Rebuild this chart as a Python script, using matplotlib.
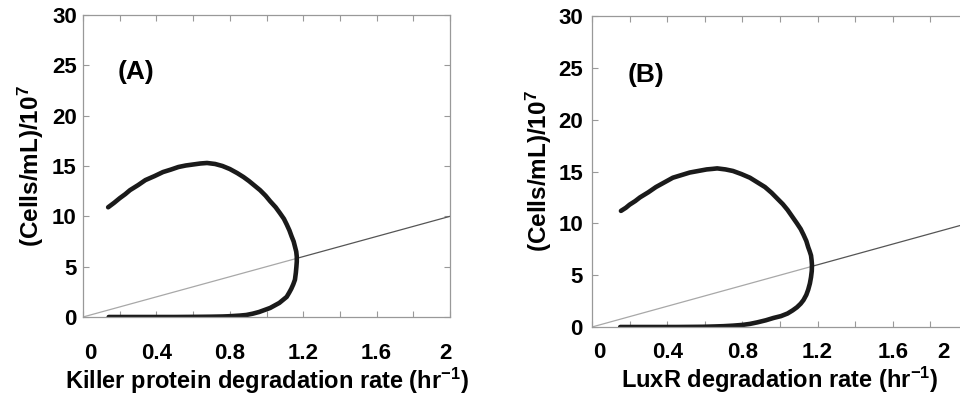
import matplotlib
matplotlib.use("Agg")
import matplotlib.pyplot as plt
from matplotlib.transforms import ScaledTranslation

plt.rcParams['font.family'] = ['Liberation Sans', 'DejaVu Sans']
plt.rcParams['font.weight'] = 'bold'
plt.rcParams['mathtext.fontset'] = 'custom'
plt.rcParams['mathtext.rm'] = 'Liberation Sans:bold'
plt.rcParams['mathtext.it'] = 'Liberation Sans:bold'
plt.rcParams['mathtext.bf'] = 'Liberation Sans:bold'
plt.rcParams['mathtext.default'] = 'rm'

# Panel A: bifurcation curve (upper branch -> fold -> lower branch)
a_x = [0.137, 0.17, 0.20, 0.23, 0.256, 0.30, 0.34, 0.39, 0.436, 0.48, 0.52, 0.56, 0.60,
       0.64, 0.676, 0.72, 0.76, 0.80, 0.84, 0.875, 0.905, 0.935, 0.965, 0.995,
       1.02, 1.05, 1.074, 1.095, 1.11, 1.125, 1.137, 1.148, 1.155, 1.162, 1.165,
       1.165, 1.163, 1.16, 1.155, 1.146, 1.135, 1.123, 1.11, 1.09, 1.07,
       1.045, 1.02, 0.99, 0.96, 0.925, 0.89, 0.855, 0.82, 0.79, 0.76, 0.70, 0.65,
       0.58, 0.5, 0.4, 0.3, 0.22, 0.14]
a_y = [10.9, 11.35, 11.8, 12.2, 12.6, 13.1, 13.6, 14.0, 14.4, 14.65, 14.9, 15.05, 15.15,
       15.25, 15.3, 15.2, 15.0, 14.7, 14.3, 13.9, 13.5, 13.05, 12.6, 12.05,
       11.5, 10.9, 10.3, 9.75, 9.2, 8.6, 8.0, 7.5, 7.0, 6.5, 6.0,
       5.5, 5.0, 4.4, 3.7, 3.25, 2.8, 2.4, 2.0, 1.7, 1.4,
       1.15, 0.9, 0.7, 0.5, 0.33, 0.2, 0.14, 0.1, 0.07, 0.05, 0.03, 0.02,
       0.01, 0.0, 0.0, 0.0, 0.0, 0.0]
# Panel B
b_x = [0.154, 0.18, 0.20, 0.23, 0.255, 0.30, 0.34, 0.385, 0.43, 0.475, 0.52, 0.565, 0.61,
       0.64, 0.666, 0.71, 0.75, 0.795, 0.84, 0.88, 0.92, 0.955, 0.985, 1.015,
       1.04, 1.065, 1.09, 1.11, 1.125, 1.14, 1.15, 1.158, 1.165, 1.168, 1.17,
       1.169, 1.165, 1.159, 1.15, 1.14, 1.125, 1.11, 1.09, 1.067, 1.04,
       1.005, 0.965, 0.925, 0.88, 0.84, 0.80, 0.75, 0.70, 0.65, 0.59, 0.52,
       0.45, 0.38, 0.3, 0.22, 0.15]
b_y = [11.2, 11.5, 11.8, 12.15, 12.5, 13.0, 13.5, 13.95, 14.4, 14.65, 14.9, 15.05, 15.2,
       15.25, 15.3, 15.2, 15.05, 14.75, 14.4, 13.95, 13.5, 12.95, 12.4, 11.85,
       11.3, 10.65, 10.0, 9.45, 8.9, 8.3, 7.7, 7.3, 6.9, 6.45, 6.0,
       5.4, 4.8, 4.2, 3.6, 3.1, 2.6, 2.25, 1.9, 1.6, 1.3,
       1.05, 0.87, 0.65, 0.45, 0.3, 0.2, 0.13, 0.08, 0.05, 0.02, 0.01,
       0.0, 0.0, 0.0, 0.0, 0.0]

# reference line y = 5x, light part up to the fold, darker beyond
line_x_light = [0.0, 1.17]
line_y_light = [0.0, 5.85]
line_x_dark = [1.17, 2.0]
line_y_dark = [5.85, 10.0]

x_ticks = [0, 0.2, 0.4, 0.6, 0.8, 1.0, 1.2, 1.4, 1.6, 1.8, 2.0]
x_labels = ['0', '', '0.4', '', '0.8', '', '1.2', '', '1.6', '', '2']
y_ticks = [0, 5, 10, 15, 20, 25, 30]
y_labels = ['0', '5', '10', '15', '20', '25', '30']

panels = [
    dict(x=a_x, y=a_y, tag='(A)', xlabel=r'Killer protein degradation rate (hr$^{-1}$)',
         rect=[83/960, 1-317/394, 367/960, 302/394], xpad=18.5, ypad=4.5,
         xl_y=-0.16, yl_x=-0.10, last_shift=-5),
    dict(x=b_x, y=b_y, tag='(B)', xlabel=r'LuxR degradation rate (hr$^{-1}$)',
         rect=[592/960, 1-327/394, 376/960, 311/394], xpad=10.5, ypad=6.5,
         xl_y=-0.12, yl_x=-0.10, last_shift=-25),
]

fig = plt.figure(figsize=(9.6, 3.94), dpi=100)
for p in panels:
    ax = fig.add_axes(p['rect'])
    ax.plot(line_x_light, line_y_light, color='#a8a8a8', lw=0.9)
    ax.plot(line_x_dark, line_y_dark, color='#555555', lw=0.9)
    ax.plot(p['x'], p['y'], color='#1a1a1a', lw=3.3, solid_capstyle='round',
            solid_joinstyle='round')
    ax.set_xlim(0, 2)
    ax.set_ylim(0, 30)
    ax.set_xticks(x_ticks)
    ax.set_xticklabels(x_labels)
    ax.set_yticks(y_ticks)
    ax.set_yticklabels(y_labels)
    ax.tick_params(axis='both', direction='in', length=4, width=0.8, color='#999999',
                   top=True, right=True, labelsize=16)
    ax.tick_params(axis='x', pad=p['xpad'])
    ax.tick_params(axis='y', pad=p['ypad'])
    for s in ax.spines.values():
        s.set_color('#999999')
        s.set_linewidth(0.9)
    xl = ax.get_xticklabels()
    xl[0].set_transform(xl[0].get_transform() + ScaledTranslation(7/100, 0, fig.dpi_scale_trans))
    xl[-1].set_transform(xl[-1].get_transform() + ScaledTranslation(p['last_shift']/100, 0, fig.dpi_scale_trans))
    ax.set_xlabel(p['xlabel'], fontsize=17, fontweight='bold')
    ax.xaxis.set_label_coords(0.5, p['xl_y'])
    ax.set_ylabel(r'(Cells/mL)/10$^{7}$', fontsize=17.5, fontweight='bold')
    ax.yaxis.set_label_coords(p['yl_x'], 0.5)
    ax.text(0.19, 24.3, p['tag'], fontsize=19, fontweight='bold', va='center', ha='left')

fig.savefig('out.png', dpi=100)
